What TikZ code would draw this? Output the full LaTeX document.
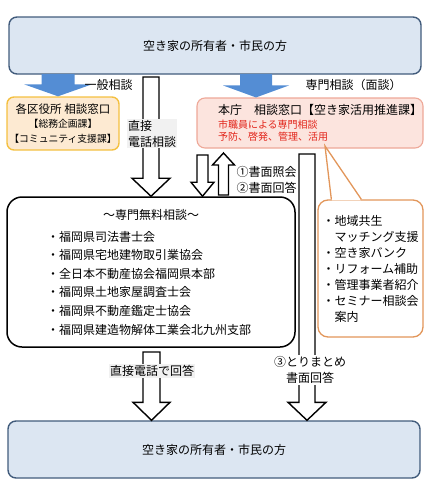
\documentclass[tikz,border=0pt]{standalone}
\usepackage{fontspec}
\setmainfont{Noto Sans CJK JP}
\usetikzlibrary{positioning,calc}

\definecolor{ownerfill}{RGB}{220,230,242}
\definecolor{ownerline}{RGB}{66,92,124}
\definecolor{arrowblue}{RGB}{84,141,212}
\definecolor{wardfill}{RGB}{253,234,210}
\definecolor{wardline}{RGB}{244,192,64}
\definecolor{hqfill}{RGB}{252,228,222}
\definecolor{hqline}{RGB}{238,168,152}
\definecolor{hqred}{RGB}{226,38,28}
\definecolor{tipline}{RGB}{226,150,90}
\definecolor{labelgray}{RGB}{241,241,241}

\tikzstyle{owner} = [rectangle, rounded corners=8pt, draw=ownerline, fill=ownerfill, line width=1.4pt, minimum width=412pt, minimum height=57pt]
\tikzstyle{ward} = [rectangle, rounded corners=7pt, draw=wardline, fill=wardfill, line width=1.4pt, minimum width=112pt, minimum height=53pt, align=center, inner sep=0pt, font=\fontsize{9.8}{15}\selectfont]
\tikzstyle{hqbox} = [rectangle, rounded corners=8pt, draw=hqline, fill=hqfill, line width=1.1pt, minimum width=226pt, minimum height=50pt, align=left, inner sep=0pt, font=\fontsize{10}{11.7}\selectfont]
\tikzstyle{freebox} = [rectangle, rounded corners=15pt, draw, line width=1.5pt, minimum width=288pt, minimum height=150pt, align=center, inner sep=0pt, font=\fontsize{12}{18.6}\selectfont]
\tikzstyle{menu} = [rectangle, rounded corners=10pt, draw=tipline, fill=white, line width=1.3pt, minimum width=105pt, minimum height=137pt, align=left, inner sep=0pt, font=\fontsize{12}{16}\selectfont]
\tikzstyle{hollow} = [draw, fill=white, line width=1.4pt]
\tikzstyle{guide} = [fill=arrowblue]
\tikzstyle{graylabel} = [fill=labelgray, inner sep=1pt, align=left]

% block arrow: [style]{from}{tip}{half shaft}{half head}{head length}
\newcommand{\blockarrow}[6][hollow]{%
  \path[#1] let \p1=(#2), \p2=(#3), \n1={sign((\y1)-(\y2))} in
    ({\x2-#4},\y1) -- ({\x2-#4},{\y2+\n1*#6}) -- ({\x2-#5},{\y2+\n1*#6}) -- (\x2,\y2)
    -- ({\x2+#5},{\y2+\n1*#6}) -- ({\x2+#4},{\y2+\n1*#6}) -- ({\x2+#4},\y1) -- cycle;}
\newcommand{\entry}[1]{\makebox[208pt][l]{・#1}}

\begin{document}
\begin{tikzpicture}[x=1pt, y=-1pt, font=\fontsize{12}{16}\selectfont]
    \useasboundingbox (0,0) rectangle (430,490);
    % Boxes
    \node[owner] (owner) at (215,45.5) {空き家の所有者・市民の方};
    \node[ward] (ward) at (63,123.5) {{\fontsize{11.5}{14}\selectfont 各区役所 相談窓口}\\[-1pt]
        【総務企画課】\\【コミュニティ支援課】};
    \node[hqbox] (hq) at (310,123) {\hspace*{20pt}{\fontsize{12}{14}\selectfont 本庁　相談窓口【空き家活用推進課】}\\[2pt]
        \hspace*{20pt}\textcolor{hqred}{市職員による専門相談}\\
        \hspace*{20pt}\textcolor{hqred}{予防、啓発、管理、活用}};
    \node[freebox] (free) at (151,272) {～専門無料相談～\\[3.4pt]
        \entry{福岡県司法書士会}\\
        \entry{福岡県宅地建物取引業協会}\\
        \entry{全日本不動産協会福岡県本部}\\
        \entry{福岡県土地家屋調査士会}\\
        \entry{福岡県不動産鑑定士協会}\\
        \entry{福岡県建造物解体工業会北九州支部}};
    \node[menu] (menu) at (370.5,268.5) {・地域共生\\　マッチング支援\\・空き家バンク\\・リフォーム補助\\
        ・管理事業者紹介\\・セミナー相談会\\　案内};
    \node[owner] (reply) at (214,449.5) {空き家の所有者・市民の方};

    % Callout pointer
    \coordinate (tipEnd) at (325,146);
    \fill[white] ($(menu.north west)+(14.6,1)$) -- (tipEnd) -- ($(menu.north west)+(43.4,1)$) -- cycle;
    \draw[tipline, line width=1.3pt] ($(menu.north west)+(14,0)$) -- (tipEnd) -- ($(menu.north west)+(44,0)$);

    % Guide arrows
    \coordinate (genTop) at (58,74);
    \coordinate (proTop) at (256,74);
    \blockarrow[guide]{genTop}{genTop |- ward.north}{16.5}{34}{12}
    \blockarrow[guide]{proTop}{proTop |- hq.north}{16}{33}{12}
    \node[anchor=west] (genLbl) at (81,85) {一般相談};
    \node[anchor=west] (proLbl) at (302,85) {専門相談（面談）};

    % Consultation flows
    \coordinate (telTop) at (151,77);
    \coordinate (askTop) at (202.5,155);
    \coordinate (ansBottom) at (223.5,195);
    \coordinate (ansTip) at (223.5,153);
    \coordinate (sumTop) at (307,154);
    \coordinate (callTop) at (151.5,352);
    \blockarrow{telTop}{telTop |- free.north}{8}{19}{18}
    \blockarrow{askTop}{askTop |- free.north}{5.5}{11.5}{14}
    \blockarrow{ansBottom}{ansTip}{5}{11}{12}
    \blockarrow{sumTop}{sumTop |- reply.north}{8}{19}{18}
    \blockarrow{callTop}{callTop |- reply.north}{8.5}{18.5}{18}

    % Labels
    \node[graylabel] (telLbl) at (152,133.5) {直接\\電話相談};
    \node[anchor=west, align=left] (docLbl) at (233,180) {①書面照会\\②書面回答};
    \node[fill=white, align=center, inner sep=1pt] (sumLbl) at (310,370) {③とりまとめ\\書面回答};
    \node[graylabel] (callLbl) at (152,371) {直接電話で回答};
\end{tikzpicture}
\end{document}
